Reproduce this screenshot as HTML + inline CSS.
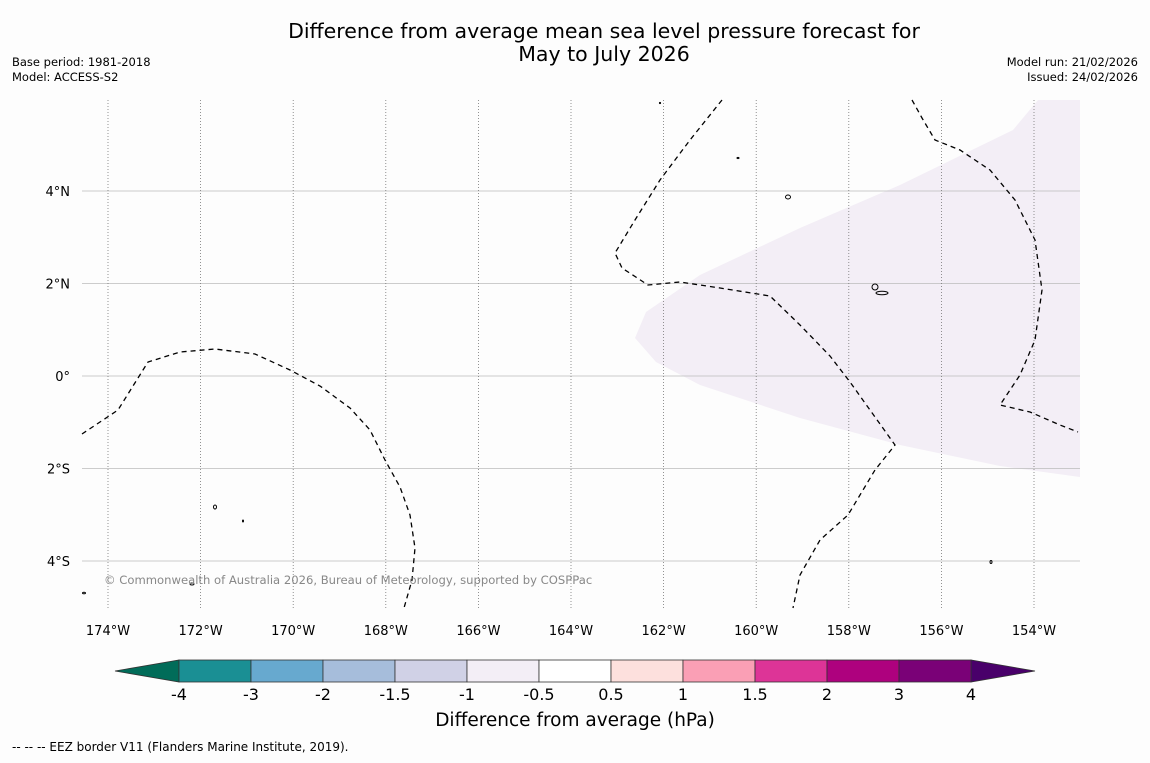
<!DOCTYPE html>
<html><head><meta charset="utf-8"><style>
body{margin:0;background:#fdfdfd;font-family:"Liberation Sans","DejaVu Sans",sans-serif;}
</style></head><body>
<svg width="1150" height="758" xmlns="http://www.w3.org/2000/svg" font-family="DejaVu Sans, Liberation Sans, sans-serif">
<rect width="1150" height="758" fill="#fdfdfd"/>
<text x="604" y="38" text-anchor="middle" font-size="20.5">Difference from average mean sea level pressure forecast for</text>
<text x="604" y="61" text-anchor="middle" font-size="20.5">May to July 2026</text>
<text x="12" y="66" font-size="11.5">Base period: 1981-2018</text>
<text x="12" y="81" font-size="11.5">Model: ACCESS-S2</text>
<text x="1138" y="66" font-size="11.5" text-anchor="end">Model run: 21/02/2026</text>
<text x="1138" y="81" font-size="11.5" text-anchor="end">Issued: 24/02/2026</text>
<g id="map"></g>
<g id="cbar"></g>
<text x="575" y="726" text-anchor="middle" font-size="18.5">Difference from average (hPa)</text>
<text x="12" y="751" font-size="12">--  --  -- EEZ border V11 (Flanders Marine Institute, 2019).</text>
</svg>
<script>
const lonTicks=[-174,-172,-170,-168,-166,-164,-162,-160,-158,-156,-154];
const lonLabels=["174°W","172°W","170°W","168°W","166°W","164°W","162°W","160°W","158°W","156°W","154°W"];
const latTicks=[4,2,0,-2,-4];
const latLabels=["4°N","2°N","0°","2°S","4°S"];
const levels=["-4","-3","-2","-1.5","-1","-0.5","0.5","1","1.5","2","3","4"];
const colors=["#1a8f94","#67a9cf","#a6bddb","#d0d1e6","#f3eef6","#ffffff","#fde0dd","#fa9fb5","#dd3497","#ae017e","#7a0177"];
const extColors=["#016c59","#49006a"];
const NS="http://www.w3.org/2000/svg";
const X0=82,X1=1080,Y0=100,Y1=608;
const xs=lon=>108+(lon+174)*46.3;
const ys=lat=>376-lat*46.25;
function mk(tag,attrs,parent){const e=document.createElementNS(NS,tag);for(const k in attrs)e.setAttribute(k,attrs[k]);parent.appendChild(e);return e;}
const map=document.getElementById('map');
let sh=mk('polygon',{points:"1038,100 1080,100 1080,477 1000,466 900,445 800,418 700,385 656,362 635,338 646,312 700,275 800,228 900,185 1013,130",fill:"#f3eef6"},map);


latTicks.forEach((v,i)=>{
 const y=ys(v);
 let l=mk('line',{x1:X0,x2:X1,y1:y,y2:y,stroke:"#bbb","stroke-width":0.8},map);
 
 
 let t=mk('text',{x:70,y:y+5,"text-anchor":"end","font-size":13},map);t.textContent=latLabels[i];
 
 
});
lonTicks.forEach((v,i)=>{
 const x=xs(v);
 let l=mk('line',{x1:x,x2:x,y1:Y0,y2:Y1,stroke:"#777","stroke-width":0.8,"stroke-dasharray":"1,2"},map);
 
 
 let t=mk('text',{x:x,y:635,"text-anchor":"middle","font-size":13},map);t.textContent=lonLabels[i];
 
 
});
const eez=["82,434 118,410 148,362 180,352 215,349 255,354 290,370 320,386 350,408 370,430 385,460 400,487 410,515 415,548 412,580 404,608",
"722,100 690,140 660,180 635,220 615,253 622,268 648,285 680,282 720,288 770,296 800,325 830,356 850,382 870,410 895,445 875,470 848,515 820,540 800,575 793,608",
"912,100 922,118 935,140 960,150 990,170 1015,200 1035,240 1042,290 1035,340 1020,375 1000,405 1030,412 1060,425 1078,432"];
eez.forEach(p=>{let l=mk('polyline',{points:p,fill:"none",stroke:"#000","stroke-width":1.3,"stroke-dasharray":"5,4"},map);
 
 });
[[215,507,1.5,2],[788,197,2.5,2],[875,287,3,3],[882,293,6,1.8],[991,562,1,1.5],[192,584,2,1],[660,103,0.6,0.6],[738,158,1,0.6],[243,521,0.5,1],[84,593,1.5,0.8]].forEach(d=>{
 let e=mk('ellipse',{cx:d[0],cy:d[1],rx:d[2],ry:d[3],fill:"none",stroke:"#000","stroke-width":1},map);
 
 });
let cr=mk('text',{x:104,y:584,"font-size":11.6,fill:"#888"},map);cr.textContent="© Commonwealth of Australia 2026, Bureau of Meteorology, supported by COSPPac";


const cb=document.getElementById('cbar');
const bx0=179,bw=72,by=660,bh=22;
let a=mk('polygon',{points:`${bx0},${by} ${bx0},${by+bh} 115,${by+bh/2}`,fill:extColors[0],stroke:"#333","stroke-width":0.8},cb);


const xe=bx0+bw*colors.length;
a=mk('polygon',{points:`${xe},${by} ${xe},${by+bh} 1035,${by+bh/2}`,fill:extColors[1],stroke:"#333","stroke-width":0.8},cb);


colors.forEach((c,i)=>{let r=mk('rect',{x:bx0+i*bw,y:by,width:bw,height:bh,fill:c,stroke:"#333","stroke-width":0.8},cb);
 
 });
levels.forEach((s,i)=>{let t=mk('text',{x:bx0+i*bw,y:700,"text-anchor":"middle","font-size":16},cb);t.textContent=s;
 
 });
</script>
</body></html>
